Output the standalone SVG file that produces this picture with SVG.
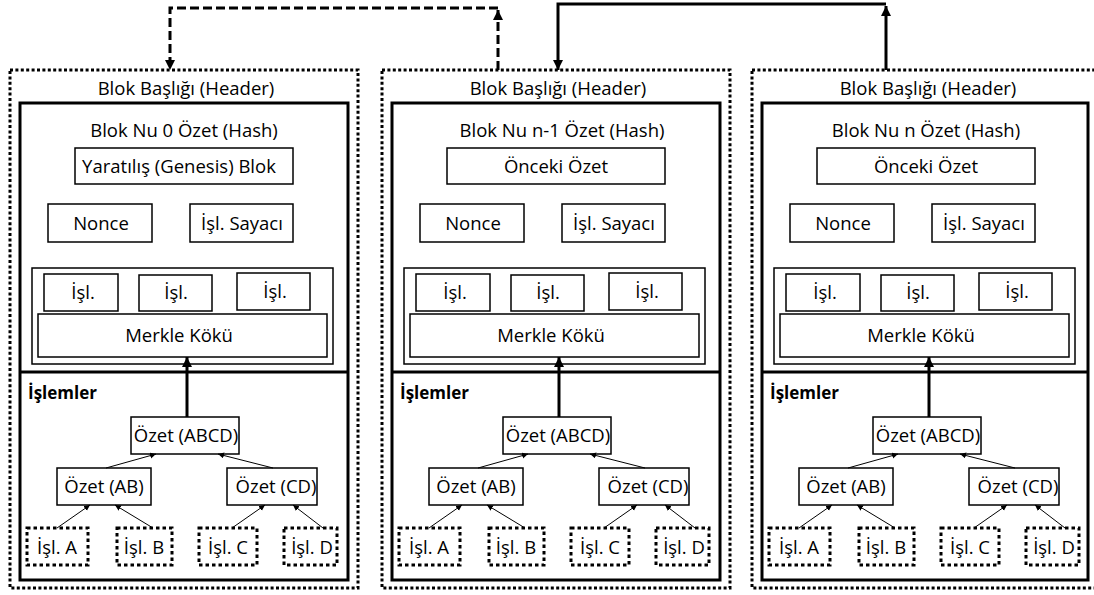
<svg xmlns="http://www.w3.org/2000/svg" width="1094" height="595" viewBox="0 0 1094 595">
<style>
text{font-family:"Open Sans","Liberation Sans",sans-serif;font-size:18.5px;fill:#000;text-anchor:middle}
.bold{font-weight:bold;text-anchor:start;font-size:17px}
.outer{fill:none;stroke:#000;stroke-width:3;stroke-dasharray:3 2.4}
.inner{fill:none;stroke:#000;stroke-width:3}
.box{fill:#fff;stroke:#000;stroke-width:1.5}
.cont{fill:none;stroke:#000;stroke-width:1.5}
.leaf{fill:#fff;stroke:#000;stroke-width:3;stroke-dasharray:3.5 3}
.thick{fill:none;stroke:#000;stroke-width:3}
.dash{fill:none;stroke:#000;stroke-width:3;stroke-dasharray:9 4}
.thin{fill:none;stroke:#000;stroke-width:1}
</style>
<defs>
<marker id="big" markerUnits="userSpaceOnUse" markerWidth="12" markerHeight="12" refX="10" refY="5" orient="auto"><path d="M0,0 L10,5 L0,10 z" fill="#000"/></marker>
<marker id="small" markerUnits="userSpaceOnUse" markerWidth="8" markerHeight="8" refX="6" refY="3" orient="auto"><path d="M0,0 L6,3 L0,6 z" fill="#000"/></marker>
</defs>
<rect width="1094" height="595" fill="#fff"/>

<g id="block0">
<rect class="outer" x="10" y="70" width="348" height="518"/>
<rect class="inner" x="20" y="103" width="328" height="477"/>
<line class="inner" x1="20" y1="372" x2="348" y2="372"/>
<g id="b0-header"><text x="186" y="95">Blok Başlığı (Header)</text></g>
<g id="b0-title"><text x="184" y="137">Blok Nu 0 Özet (Hash)</text></g>
<g id="b0-prev"><rect class="box" x="75" y="148" width="218" height="36"/><text x="179" y="173">Yaratılış (Genesis) Blok</text></g>
<g id="b0-nonce"><rect class="box" x="48" y="204" width="104" height="38"/><text x="101" y="230">Nonce</text></g>
<g id="b0-counter"><rect class="box" x="190" y="204" width="103" height="38"/><text x="242" y="230">İşl. Sayacı</text></g>
<g id="b0-txset"><rect class="cont" x="32" y="268" width="301" height="96"/>
<rect class="box" x="44" y="274" width="74" height="37"/><text x="83" y="299">İşl.</text>
<rect class="box" x="139" y="275" width="73" height="36"/><text x="176" y="299">İşl.</text>
<rect class="box" x="237" y="273" width="73" height="37"/><text x="275" y="298">İşl.</text></g>
<g id="b0-merkle"><rect class="box" x="38" y="314" width="289" height="43"/><text x="179" y="342">Merkle Kökü</text></g>
<g id="b0-islemler"><text class="bold" x="28" y="399">İşlemler</text></g>
<g id="b0-abcd"><rect class="box" x="131" y="417" width="108" height="37"/><text x="186" y="442">Özet (ABCD)</text></g>
<g id="b0-ab"><rect class="box" x="57" y="468" width="94" height="37"/><text x="104" y="493">Özet (AB)</text></g>
<g id="b0-cd"><rect class="box" x="227" y="468" width="90" height="37"/><text x="276" y="493">Özet (CD)</text></g>
<g id="b0-a"><rect class="leaf" x="27" y="528" width="61" height="37"/><text x="57" y="554">İşl. A</text></g>
<g id="b0-b"><rect class="leaf" x="117" y="528" width="55" height="37"/><text x="144" y="554">İşl. B</text></g>
<g id="b0-c"><rect class="leaf" x="199" y="528" width="58" height="37"/><text x="228" y="554">İşl. C</text></g>
<g id="b0-d"><rect class="leaf" x="284" y="528" width="53" height="37"/><text x="312" y="554">İşl. D</text></g>
</g>

<g id="block1" transform="translate(372,0)">
<rect class="outer" x="10" y="70" width="348" height="518"/>
<rect class="inner" x="20" y="103" width="328" height="477"/>
<line class="inner" x1="20" y1="372" x2="348" y2="372"/>
<g id="b1-header"><text x="186" y="95">Blok Başlığı (Header)</text></g>
<g id="b1-title"><text x="190" y="137">Blok Nu n-1 Özet (Hash)</text></g>
<g id="b1-prev"><rect class="box" x="75" y="148" width="218" height="36"/><text x="184" y="173">Önceki Özet</text></g>
<g id="b1-nonce"><rect class="box" x="48" y="204" width="104" height="38"/><text x="101" y="230">Nonce</text></g>
<g id="b1-counter"><rect class="box" x="190" y="204" width="103" height="38"/><text x="242" y="230">İşl. Sayacı</text></g>
<g id="b1-txset"><rect class="cont" x="32" y="268" width="301" height="96"/>
<rect class="box" x="44" y="274" width="74" height="37"/><text x="83" y="299">İşl.</text>
<rect class="box" x="139" y="275" width="73" height="36"/><text x="176" y="299">İşl.</text>
<rect class="box" x="237" y="273" width="73" height="37"/><text x="275" y="298">İşl.</text></g>
<g id="b1-merkle"><rect class="box" x="38" y="314" width="289" height="43"/><text x="179" y="342">Merkle Kökü</text></g>
<g id="b1-islemler"><text class="bold" x="28" y="399">İşlemler</text></g>
<g id="b1-abcd"><rect class="box" x="131" y="417" width="108" height="37"/><text x="186" y="442">Özet (ABCD)</text></g>
<g id="b1-ab"><rect class="box" x="57" y="468" width="94" height="37"/><text x="104" y="493">Özet (AB)</text></g>
<g id="b1-cd"><rect class="box" x="227" y="468" width="90" height="37"/><text x="276" y="493">Özet (CD)</text></g>
<g id="b1-a"><rect class="leaf" x="27" y="528" width="61" height="37"/><text x="57" y="554">İşl. A</text></g>
<g id="b1-b"><rect class="leaf" x="117" y="528" width="55" height="37"/><text x="144" y="554">İşl. B</text></g>
<g id="b1-c"><rect class="leaf" x="199" y="528" width="58" height="37"/><text x="228" y="554">İşl. C</text></g>
<g id="b1-d"><rect class="leaf" x="284" y="528" width="53" height="37"/><text x="312" y="554">İşl. D</text></g>
</g>

<g id="block2" transform="translate(742,0)">
<rect class="outer" x="10" y="70" width="348" height="518"/>
<rect class="inner" x="20" y="103" width="326" height="477"/>
<line class="inner" x1="20" y1="372" x2="346" y2="372"/>
<g id="b2-header"><text x="186" y="95">Blok Başlığı (Header)</text></g>
<g id="b2-title"><text x="184" y="137">Blok Nu n Özet (Hash)</text></g>
<g id="b2-prev"><rect class="box" x="75" y="148" width="218" height="36"/><text x="184" y="173">Önceki Özet</text></g>
<g id="b2-nonce"><rect class="box" x="48" y="204" width="104" height="38"/><text x="101" y="230">Nonce</text></g>
<g id="b2-counter"><rect class="box" x="190" y="204" width="103" height="38"/><text x="242" y="230">İşl. Sayacı</text></g>
<g id="b2-txset"><rect class="cont" x="32" y="268" width="301" height="96"/>
<rect class="box" x="44" y="274" width="74" height="37"/><text x="83" y="299">İşl.</text>
<rect class="box" x="139" y="275" width="73" height="36"/><text x="176" y="299">İşl.</text>
<rect class="box" x="237" y="273" width="73" height="37"/><text x="275" y="298">İşl.</text></g>
<g id="b2-merkle"><rect class="box" x="38" y="314" width="289" height="43"/><text x="179" y="342">Merkle Kökü</text></g>
<g id="b2-islemler"><text class="bold" x="28" y="399">İşlemler</text></g>
<g id="b2-abcd"><rect class="box" x="131" y="417" width="108" height="37"/><text x="186" y="442">Özet (ABCD)</text></g>
<g id="b2-ab"><rect class="box" x="57" y="468" width="94" height="37"/><text x="104" y="493">Özet (AB)</text></g>
<g id="b2-cd"><rect class="box" x="227" y="468" width="90" height="37"/><text x="276" y="493">Özet (CD)</text></g>
<g id="b2-a"><rect class="leaf" x="27" y="528" width="61" height="37"/><text x="57" y="554">İşl. A</text></g>
<g id="b2-b"><rect class="leaf" x="117" y="528" width="55" height="37"/><text x="144" y="554">İşl. B</text></g>
<g id="b2-c"><rect class="leaf" x="199" y="528" width="58" height="37"/><text x="228" y="554">İşl. C</text></g>
<g id="b2-d"><rect class="leaf" x="284" y="528" width="53" height="37"/><text x="312" y="554">İşl. D</text></g>
</g>

<g id="connectors">
<path class="dash" d="M498,70 V10" marker-end="url(#big)"/>
<path class="dash" d="M498,8 H170 V70" marker-end="url(#big)"/>
<path class="thick" d="M886,70 V6" marker-end="url(#big)"/>
<path class="thick" d="M886,4 H558 V70" marker-end="url(#big)"/>
<g id="tree0">
<line class="thick" x1="187" y1="417" x2="187" y2="357" marker-end="url(#big)"/>
<line class="thin" x1="106" y1="468" x2="156" y2="454" marker-end="url(#small)"/>
<line class="thin" x1="273" y1="468" x2="218" y2="454" marker-end="url(#small)"/>
<line class="thin" x1="57" y1="528" x2="90" y2="505" marker-end="url(#small)"/>
<line class="thin" x1="153" y1="528" x2="115" y2="505" marker-end="url(#small)"/>
<line class="thin" x1="232" y1="528" x2="265" y2="505" marker-end="url(#small)"/>
<line class="thin" x1="323" y1="528" x2="293" y2="505" marker-end="url(#small)"/>
</g>
<g id="tree1" transform="translate(372,0)">
<line class="thick" x1="187" y1="417" x2="187" y2="357" marker-end="url(#big)"/>
<line class="thin" x1="106" y1="468" x2="156" y2="454" marker-end="url(#small)"/>
<line class="thin" x1="273" y1="468" x2="218" y2="454" marker-end="url(#small)"/>
<line class="thin" x1="57" y1="528" x2="90" y2="505" marker-end="url(#small)"/>
<line class="thin" x1="153" y1="528" x2="115" y2="505" marker-end="url(#small)"/>
<line class="thin" x1="232" y1="528" x2="265" y2="505" marker-end="url(#small)"/>
<line class="thin" x1="323" y1="528" x2="293" y2="505" marker-end="url(#small)"/>
</g>
<g id="tree2" transform="translate(742,0)">
<line class="thick" x1="187" y1="417" x2="187" y2="357" marker-end="url(#big)"/>
<line class="thin" x1="106" y1="468" x2="156" y2="454" marker-end="url(#small)"/>
<line class="thin" x1="273" y1="468" x2="218" y2="454" marker-end="url(#small)"/>
<line class="thin" x1="57" y1="528" x2="90" y2="505" marker-end="url(#small)"/>
<line class="thin" x1="153" y1="528" x2="115" y2="505" marker-end="url(#small)"/>
<line class="thin" x1="232" y1="528" x2="265" y2="505" marker-end="url(#small)"/>
<line class="thin" x1="323" y1="528" x2="293" y2="505" marker-end="url(#small)"/>
</g>
</g>
</svg>
